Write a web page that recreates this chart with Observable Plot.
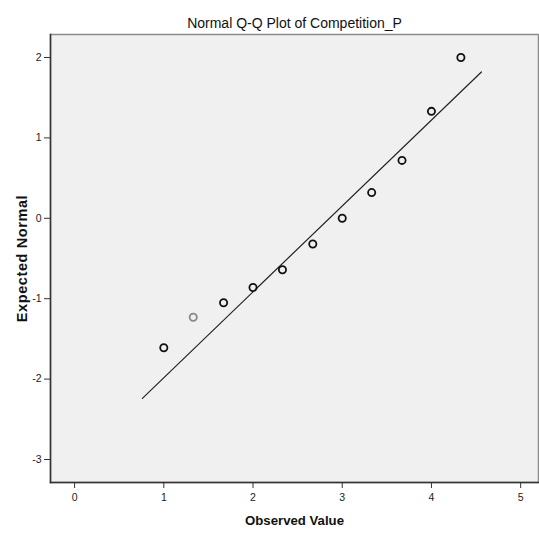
<!DOCTYPE html>
<html>
<head>
<meta charset="utf-8">
<script src="https://cdn.jsdelivr.net/npm/d3@7"></script>
<script src="https://cdn.jsdelivr.net/npm/@observablehq/plot@0.6"></script>
<style>
  body { margin: 0; background: #fff; }
  #chart svg { display: block; }
</style>
</head>
<body>
<div id="chart"></div>
<script>
const titleText = "Normal Q-Q Plot of Competition_P";
const xLabel = "Observed Value";
const yLabel = "Expected Normal";

// Observed values and expected normal quantiles
const observed = [1.00, 1.33, 1.67, 2.00, 2.33, 2.67, 3.00, 3.33, 3.67, 4.00, 4.33];
const expected = [-1.61, -1.23, -1.05, -0.86, -0.64, -0.32, 0.00, 0.32, 0.72, 1.33, 2.00];

// Reference line endpoints
const lineX = [0.76, 4.56];
const lineY = [-2.24, 1.82];

const xTicks = [0, 1, 2, 3, 4, 5];
const yTicks = [-3, -2, -1, 0, 1, 2];

const points = observed.map((x, i) => ({x, y: expected[i], i}));
const refLine = lineX.map((x, i) => ({x, y: lineY[i]}));

const font = "'Liberation Sans', Arial, sans-serif";

const chart = Plot.plot({
  width: 539,
  height: 533,
  marginTop: 34,
  marginBottom: 51,
  marginLeft: 50,
  marginRight: 1,
  style: {fontFamily: font, background: "#fff", color: "#222"},
  x: {domain: [-0.27, 5.2]},
  y: {domain: [-3.286, 2.286]},
  marks: [
    Plot.frame({fill: "#f0f0f0", stroke: "#8c8c8c", strokeWidth: 1.5}),
    Plot.frame({anchor: "left", stroke: "#333", strokeWidth: 1.5}),
    Plot.frame({anchor: "bottom", stroke: "#333", strokeWidth: 1.5}),
    Plot.axisX({ticks: xTicks, tickSize: 6, tickPadding: 5, tickFormat: d => String(d), fontSize: 10.5, label: null, stroke: "#333"}),
    Plot.axisY({ticks: yTicks, tickSize: 6, tickPadding: 3, tickFormat: d => String(d), fontSize: 10.5, label: null, stroke: "#333"}),
    Plot.line(refLine, {x: "x", y: "y", stroke: "#222", strokeWidth: 1.2}),
    Plot.dot(points, {x: "x", y: "y", r: 3.6, strokeWidth: 1.8,
      stroke: d => d.i === 1 ? "#888" : "#111"}),
    Plot.text([titleText], {text: d => d, frameAnchor: "top", dy: -16, fontSize: 14, fill: "#111"}),
    Plot.text([xLabel], {text: d => d, frameAnchor: "bottom", dy: 42, fontSize: 13.2, fontWeight: "bold", fill: "#111"}),
    Plot.text([yLabel], {text: d => d, frameAnchor: "left", textAnchor: "middle", dx: -28, rotate: -90, fontSize: 14.5, fontWeight: "bold", fill: "#111"})
  ]
});
d3.select(chart).selectAll("text").filter(function() { return this.textContent === yLabel; })
  .style("letter-spacing", "0.6px");
document.getElementById("chart").appendChild(chart);
</script>
</body>
</html>
